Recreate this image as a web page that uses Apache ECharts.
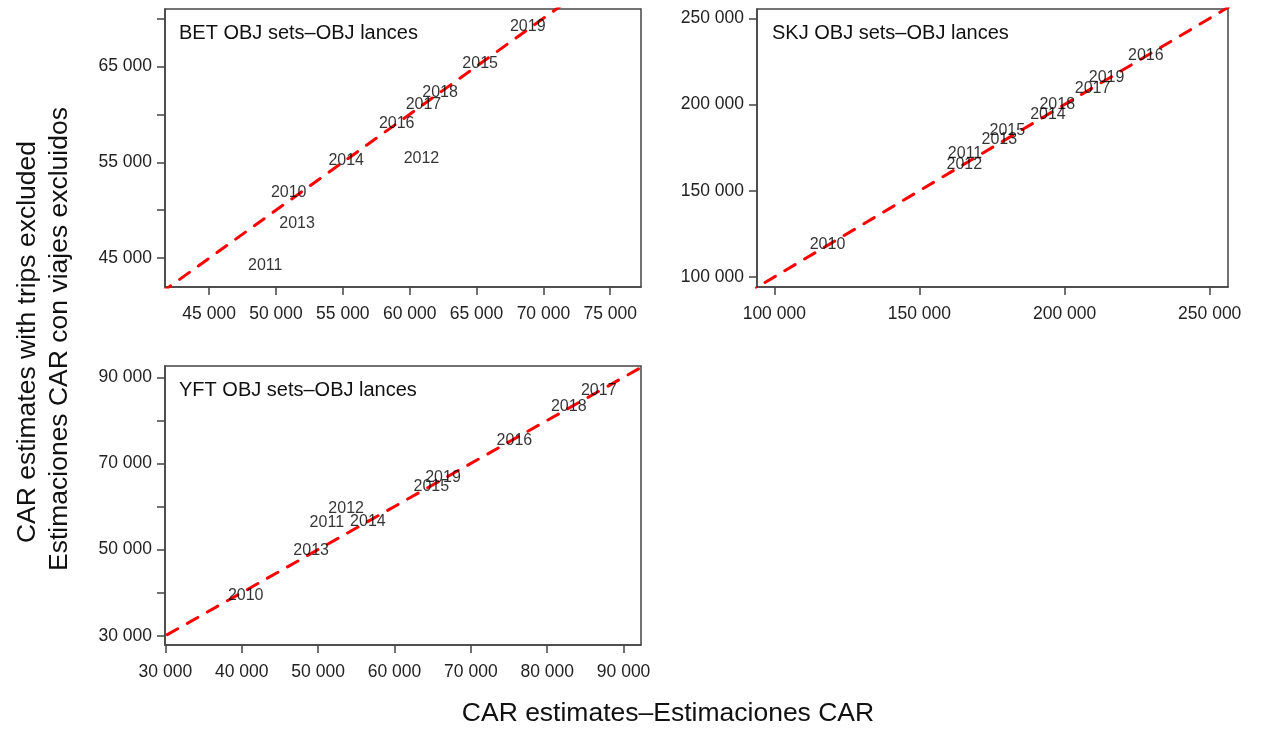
<!DOCTYPE html>
<html>
<head>
<meta charset="utf-8">
<script src="https://cdn.jsdelivr.net/npm/echarts@6/dist/echarts.min.js"></script>
<style>
  html, body { margin: 0; padding: 0; background: #fff; }
  #main { width: 1267px; height: 730px; }
</style>
</head>
<body>
<div id="main"></div>
<script>
// year labels, in the same order for every panel
const years = ['2010', '2011', '2012', '2013', '2014', '2015', '2016', '2017', '2018', '2019'];

// BET OBJ sets
const betX = [50950, 49200, 60880, 51580, 55250, 65270, 59030, 61030, 62270, 68830];
const betY = [51850, 44230, 55340, 48580, 55160, 65250, 59020, 60970, 62230, 69120];
// SKJ OBJ sets
const skjX = [118340, 165720, 165480, 177530, 194280, 180280, 228000, 209660, 197480, 214480];
const skjY = [118530, 171400, 165220, 179930, 194000, 184910, 228350, 209470, 199970, 215840];
// YFT OBJ sets
const yftX = [40520, 51140, 53670, 49090, 56520, 64820, 75700, 86750, 82820, 66350];
const yftY = [39380, 56240, 59580, 49830, 56400, 64530, 75280, 86890, 83170, 66690];

// tick marks and labelled ticks
const betXTicks = [45000, 50000, 55000, 60000, 65000, 70000, 75000];
const betYTicks = [45000, 50000, 55000, 60000, 65000, 70000];
const betYLabels = [45000, 55000, 65000];
const skjTicks = [100000, 150000, 200000, 250000];
const yftTicks = [30000, 40000, 50000, 60000, 70000, 80000, 90000];
const yftYLabels = [30000, 50000, 70000, 90000];

// ends of the 1:1 reference line
const betDiag = [40000, 80000];
const skjDiag = [90000, 260000];
const yftDiag = [25000, 95000];

const panelNames = ['BET OBJ sets\u2013OBJ lances', 'SKJ OBJ sets\u2013OBJ lances', 'YFT OBJ sets\u2013OBJ lances'];

const FONT = 'Arial, "Liberation Sans", sans-serif';
const AXIS_COLOR = '#444';

const fmt = (v) => String(v).replace(/\B(?=(\d{3})+(?!\d))/g, ' ');

function makeAxis(dim, grid, min, max, ticks, labels) {
  return {
    type: 'value',
    gridIndex: grid,
    min: min,
    max: max,
    splitLine: { show: false },
    axisLine: { show: true, onZero: false, lineStyle: { color: AXIS_COLOR, width: 1.5 } },
    axisTick: { show: true, length: 8, customValues: ticks, lineStyle: { color: AXIS_COLOR, width: 1.5 } },
    axisLabel: {
      customValues: labels,
      margin: dim === 'x' ? 18 : 13,
      color: '#222',
      fontSize: 17.5,
      fontFamily: FONT,
      formatter: fmt
    }
  };
}

function pairs(xs, ys) {
  return xs.map((x, i) => [x, ys[i], years[i]]);
}

function diagSeries(idx, ends) {
  return {
    type: 'line',
    xAxisIndex: idx,
    yAxisIndex: idx,
    data: ends.map((v) => [v, v]),
    symbol: 'none',
    clip: true,
    silent: true,
    z: 2,
    lineStyle: { color: '#ff0000', width: 3, type: [12, 11], cap: 'round' }
  };
}

function yearSeries(idx, xs, ys) {
  return {
    type: 'scatter',
    xAxisIndex: idx,
    yAxisIndex: idx,
    data: pairs(xs, ys),
    symbolSize: 1,
    itemStyle: { color: 'rgba(0,0,0,0)' },
    z: 3,
    label: {
      show: true,
      position: 'inside',
      formatter: (p) => p.data[2],
      color: '#000',
      textBorderWidth: 0,
      fontSize: 16,
      fontFamily: FONT
    }
  };
}

const grids = [
  { left: 165, top: 9, width: 476, height: 278 },
  { left: 757, top: 9, width: 471, height: 278 },
  { left: 165, top: 366, width: 476, height: 279 }
].map((g) => Object.assign(g, { show: true, borderColor: AXIS_COLOR, borderWidth: 1.5, containLabel: false }));

const myChart = echarts.init(document.getElementById('main'), null, { renderer: 'canvas' });
const option = {
  backgroundColor: '#fff',
  animation: false,
  title: [
    { text: panelNames[0], left: 179, top: 23 },
    { text: panelNames[1], left: 772, top: 23 },
    { text: panelNames[2], left: 179, top: 380 }
  ].map((t) => Object.assign(t, {
    textStyle: { fontFamily: FONT, fontSize: 20, fontWeight: 'normal', color: '#111' },
    padding: 0
  })),
  grid: grids,
  xAxis: [
    makeAxis('x', 0, 41700, 77300, betXTicks, betXTicks),
    makeAxis('x', 1, 94050, 256300, skjTicks, skjTicks),
    makeAxis('x', 2, 29950, 92280, yftTicks, yftTicks)
  ],
  yAxis: [
    makeAxis('y', 0, 42000, 70970, betYTicks, betYLabels),
    makeAxis('y', 1, 94200, 255400, skjTicks, skjTicks),
    makeAxis('y', 2, 27840, 92620, yftTicks, yftYLabels)
  ],
  graphic: [
    {
      type: 'text',
      x: 28, y: 342, rotation: Math.PI / 2,
      style: { text: 'CAR estimates with trips excluded', font: '26.5px ' + FONT, fill: '#111', align: 'center', verticalAlign: 'middle' }
    },
    {
      type: 'text',
      x: 60, y: 339, rotation: Math.PI / 2,
      style: { text: 'Estimaciones CAR con viajes excluidos', font: '26.5px ' + FONT, fill: '#111', align: 'center', verticalAlign: 'middle' }
    },
    {
      type: 'text',
      x: 668, y: 714,
      style: { text: 'CAR estimates\u2013Estimaciones CAR', font: '26.5px ' + FONT, fill: '#111', align: 'center', verticalAlign: 'middle' }
    }
  ],
  series: [
    diagSeries(0, betDiag),
    diagSeries(1, skjDiag),
    diagSeries(2, yftDiag),
    yearSeries(0, betX, betY),
    yearSeries(1, skjX, skjY),
    yearSeries(2, yftX, yftY)
  ]
};
myChart.setOption(option);
</script>
</body>
</html>
